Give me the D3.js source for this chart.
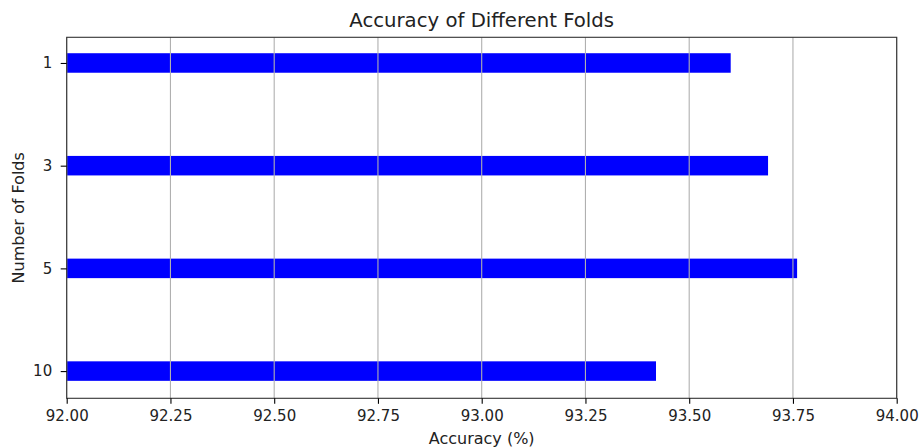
<!DOCTYPE html>
<html>
<head>
<meta charset="utf-8">
<script src="https://d3js.org/d3.v7.min.js"></script>
<style>
    html, body { margin: 0; padding: 0; background: #fff; }
    svg { display: block; font-family: "DejaVu Sans", sans-serif; }
    .grid line { stroke: #b0b0b0; stroke-width: 1.1px; }
    .axis path, .axis line { stroke: #000; stroke-width: 1.1px; }
</style>
</head>
<body>
<div id="chart"></div>
<script>
    var folds = ["1", "3", "5", "10"];
    var accuracy = [93.60, 93.69, 93.76, 93.42];
    var xTicks = [92.00, 92.25, 92.50, 92.75, 93.00, 93.25, 93.50, 93.75, 94.00];

    var width = 919, height = 447,
        margin = {top: 37.3, right: 22.3, bottom: 48.7, left: 66.7};

    var svg = d3.select("#chart").append("svg")
        .attr("width", width)
        .attr("height", height);

    var x = d3.scaleLinear()
        .domain([92, 94])
        .range([margin.left, width - margin.right]);

    // categorical positions, first category at the top
    var y = d3.scaleLinear()
        .domain([-0.25, folds.length - 1 + 0.265])
        .range([margin.top, height - margin.bottom]);

    var barH = Math.abs(y(0.095) - y(-0.095));

    // bars
    svg.append("g").selectAll("rect")
        .data(accuracy)
        .enter()
        .append("rect")
        .attr("x", x(92))
        .attr("y", function (d, i) { return y(i) - barH / 2; })
        .attr("width", function (d) { return x(d) - x(92); })
        .attr("height", barH)
        .style("fill", "#0000ff");

    // vertical gridlines over the bars
    svg.append("g")
        .attr("class", "grid")
        .selectAll("line")
        .data(xTicks)
        .enter()
        .append("line")
        .attr("x1", function (d) { return x(d); })
        .attr("x2", function (d) { return x(d); })
        .attr("y1", margin.top)
        .attr("y2", height - margin.bottom);

    // frame
    svg.append("rect")
        .attr("x", margin.left)
        .attr("y", margin.top)
        .attr("width", width - margin.left - margin.right)
        .attr("height", height - margin.top - margin.bottom)
        .style("fill", "none")
        .style("stroke", "#333")
        .style("stroke-width", "1.1px");

    function styleAxis(g) {
        g.select(".domain").remove();
        g.attr("font-size", null).attr("font-family", null)
            .style("font-size", "15px")
            .style("font-family", "'DejaVu Sans', sans-serif");
        g.selectAll("text").style("fill", "#222");
    }

    var xAxis = d3.axisBottom(x)
        .tickValues(xTicks)
        .tickFormat(d3.format(".2f"))
        .tickSize(5.5)
        .tickPadding(7);

    svg.append("g")
        .attr("class", "axis")
        .attr("transform", "translate(0," + (height - margin.bottom) + ")")
        .call(xAxis)
        .call(styleAxis);

    var yAxis = d3.axisLeft(y)
        .tickValues(d3.range(folds.length))
        .tickFormat(function (i) { return folds[i]; })
        .tickSize(6)
        .tickPadding(8.5);

    svg.append("g")
        .attr("class", "axis")
        .attr("transform", "translate(" + margin.left + ",0)")
        .call(yAxis)
        .call(styleAxis);

    svg.append("text")
        .attr("x", (margin.left + width - margin.right) / 2)
        .attr("y", 27)
        .attr("text-anchor", "middle")
        .style("font-size", "19.7px")
        .style("fill", "#222")
        .text("Accuracy of Different Folds");

    svg.append("text")
        .attr("x", (margin.left + width - margin.right) / 2)
        .attr("y", 444)
        .attr("text-anchor", "middle")
        .style("font-size", "16px")
        .style("fill", "#222")
        .text("Accuracy (%)");

    svg.append("text")
        .attr("transform", "translate(24," + ((margin.top + height - margin.bottom) / 2) + ") rotate(-90)")
        .attr("text-anchor", "middle")
        .style("font-size", "16px")
        .style("fill", "#222")
        .text("Number of Folds");
</script>
</body>
</html>
